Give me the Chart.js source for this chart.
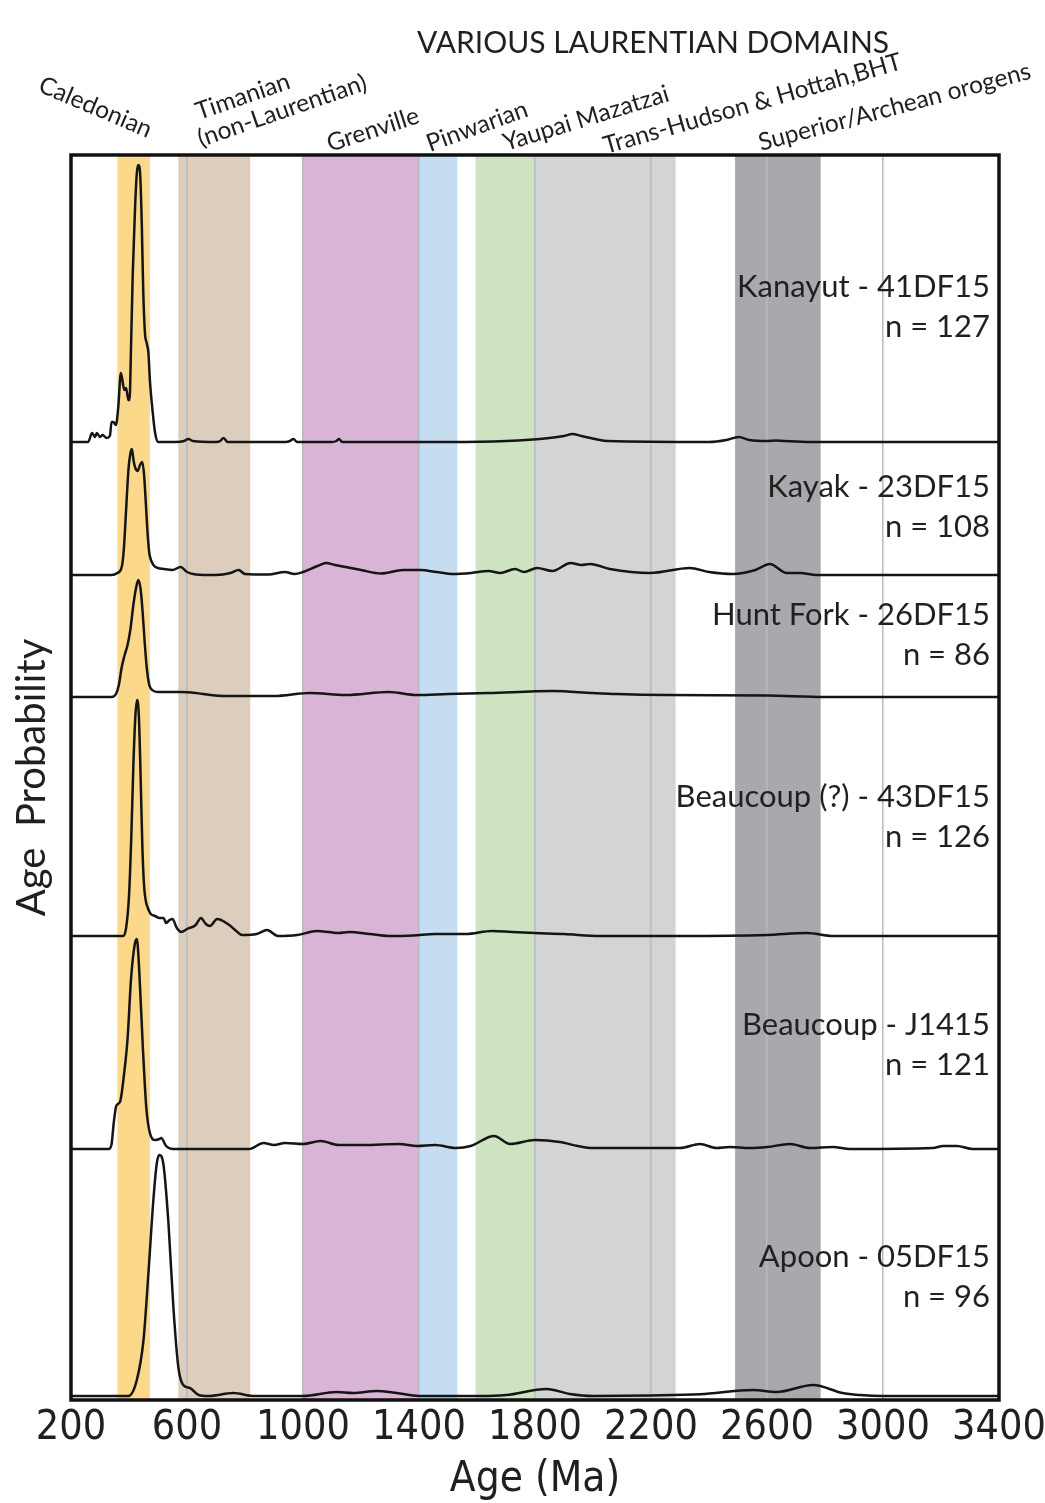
<!DOCTYPE html>
<html>
<head>
<meta charset="utf-8">
<script src="https://cdn.jsdelivr.net/npm/chart.js@4.4.1/dist/chart.umd.min.js"></script>
<style>
  html,body{margin:0;padding:0;background:#fff;}
  #wrap{width:1045px;height:1503px;}
</style>
</head>
<body>
<div id="wrap"><canvas id="chart" width="1045" height="1503"></canvas></div>
<script>
/* ---------------- DATA ---------------- */
const X_TICKS = [200, 600, 1000, 1400, 1800, 2200, 2600, 3000, 3400];

// domain bands (Ma)
const bandStart  = [360, 570, 1000, 1400, 1595, 1800, 2490];
const bandEnd    = [472, 818, 1400, 1532, 1800, 2285, 2785];
const bandColors = ["#fcd88b", "#ddcdbd", "#d8b4d6", "#c4ddf1", "#cfe3c3", "#d3d4d5", "#a7a9ac"];

const domainTitle  = "VARIOUS LAURENTIAN DOMAINS";
const domainLabels = ["Caledonian", "Timanian", "(non-Laurentian)", "Grenville", "Pinwarian",
                      "Yaupai Mazatzai", "Trans-Hudson & Hottah,BHT", "Superior/Archean orogens"];

// samples, top to bottom
const sampleNames = ["Kanayut - 41DF15", "Kayak - 23DF15", "Hunt Fork - 26DF15",
                     "Beaucoup (?) - 43DF15", "Beaucoup - J1415", "Apoon - 05DF15"];
const sampleN     = ["n = 127", "n = 108", "n = 86", "n = 126", "n = 121", "n = 96"];
const baselines   = [958, 825, 703, 464, 251, 4];   // vertical offset of each curve

const kanayutAge  = [200,259,273,283,289,300,309,323,334,340,346,355,363,372,384,390,398,402,407,413,421,427,432,438,444,449,455,461,467,472,482,490,501,
                     560,590,605,620,700,715,726,740,940,955,967,980,1100,1115,1124,1135,1500,1700,1850,1900,1929,1960,2050,2400,2460,2502,2540,2600,2630,2660,2750,3400];
const kanayutProb = [0,0,9,5,9,5,7,4,6,20,20,17,35,69,52,54,42,42,95,169,235,269,277,270,219,152,109,99,89,62,29,9,0,
                     0,1,3,1,0,1,4,0,0,1,3,0,0,1,3,0,0,1,4,6,8,6,1,0,2,5,2,1,1.5,1,0,0];

const kayakAge  = [200,340,360,375,382,390,398,405,410,416,422,430,438,446,452,458,464,470,477,487,500,520,550,578,600,630,700,750,778,800,880,938,970,1000,1050,1080,1110,1147,1200,1270,1345,1406,1460,1517,1580,1640,1680,1731,1762,1807,1860,1923,1960,1990,2058,2196,2334,2400,2483,2560,2610,2668,2714,2771,3400];
const kayakProb = [0,0,2,8,25,65,105,122,126,114,107,104,110,113,100,72,42,22,14,9,7,6,5,8,3,0.5,0,2,5,1,0.5,3,1,3,9,12,10,8,5,1.5,5,5,3,1,2,4,2,6,3,7,4,12,10,11,6,2,7,3,1,5,11,2,2,0,0];

const huntForkAge  = [200,340,355,365,375,385,395,405,415,425,432,440,447,454,461,470,480,500,540,580,630,680,728,900,1024,1148,1295,1393,1500,1640,1862,2000,2083,2254,2599,2800,3400];
const huntForkProb = [0,0,3,12,30,42,52,68,92,110,117,108,85,55,30,12,7,5,5,5,4,2,1,1,4,2,5,2,3,4,6,4,3,2,1.5,0,0];

const beaucoupQAge  = [200,380,390,400,408,415,422,428,434,440,446,452,458,465,475,490,505,519,528,540,550,565,581,600,630,648,665,679,704,741,770,790,840,876,914,980,1048,1090,1123,1160,1230,1295,1380,1455,1560,1652,1720,1800,1900,2024,2300,2600,2737,2829,3400];
const beaucoupQProb = [0,0,8,40,100,170,220,236,220,160,90,50,35,28,22,20,18,18,13,16,17,8,4,7,11,18,12,10,17,12,5,1,2,6,0,1,5,4,3,4,2,0,0.5,2,2,5,4,3,2,0,0,1,3,0,0];

const j1415Age  = [200,330,340,347,355,362,370,383,395,407,420,427,435,448,460,472,490,505,511,528,552,814,864,900,938,1000,1061,1123,1209,1331,1393,1455,1528,1578,1659,1714,1800,1886,1948,2000,2200,2300,2369,2426,2472,2541,2600,2679,2748,2827,2886,3172,3207,3255,3310,3400];
const j1415Prob = [0,0,5,25,42,45,48,75,110,170,205,210,180,100,40,16,9,10,11,3,0,0,6,4,6,5,8,4,4,5,3,4,1,3,13,5,9,7,3,1,1,1,5,1,2,1,2,5,1,2,0,1,3,3,0,0];

const apoonAge  = [200,398,427,450,467,484,496,505,519,536,553,570,587,610,640,674,760,830,1000,1116,1172,1254,1323,1400,1610,1700,1840,1920,2000,2200,2369,2552,2633,2759,2860,2921,3000,3400];
const apoonProb = [0,0,16,56,123,196,233,241,231,173,89,29,11,8,1,0,3,0,0,4,3,5,3,0,0,1,7,2,0,0.5,1.7,6,4,11,3,1,0,0];

const seriesAges  = [kanayutAge, kayakAge, huntForkAge, beaucoupQAge, j1415Age, apoonAge];
const seriesProbs = [kanayutProb, kayakProb, huntForkProb, beaucoupQProb, j1415Prob, apoonProb];
/* -------------------------------------- */

/* ---------------- STYLE ---------------- */
const INK = "#231f20";
const SANS = "Lato, 'Open Sans', sans-serif";
const NARROW = "'Liberation Sans Narrow', 'DejaVu Sans Condensed', Lato, sans-serif";
// label y positions (in curve units) for name / n lines
const labelY = [[1103, 1063], [903, 863], [775, 735], [593, 553], [365, 325], [133, 93]];
// domain label anchors: x, y (baseline start), angle in degrees
const domainPos = [[37, 91, 23], [199, 120, -19], [201, 147, -19], [330, 152, -18], [430, 152, -20],
                   [506, 151, -17], [606, 154, -16], [761, 151, -15]];
/* -------------------------------------- */

function toPoints(ages, probs, base){
    return ages.map((a, i) => ({x: a, y: base + probs[i]}));
}

/* colored domain bands behind everything */
const bandsPlugin = {
    id: 'bands',
    beforeDraw(chart){
        const {ctx, chartArea: a, scales: {x}} = chart;
        ctx.save();
        bandStart.forEach((s, i) => {
            const x0 = x.getPixelForValue(s), x1 = x.getPixelForValue(bandEnd[i]);
            ctx.fillStyle = bandColors[i];
            ctx.fillRect(x0, a.top, x1 - x0, a.bottom - a.top);
        });
        ctx.restore();
    }
};

/* frame, sample labels and domain labels */
const labelsPlugin = {
    id: 'labels',
    afterDraw(chart){
        const {ctx, chartArea: a, scales: {y}} = chart;
        ctx.save();
        ctx.strokeStyle = "#111";
        ctx.lineWidth = 3.5;
        ctx.strokeRect(a.left, a.top, a.right - a.left, a.bottom - a.top);

        ctx.fillStyle = INK;
        ctx.textAlign = 'right';
        ctx.textBaseline = 'alphabetic';
        ctx.font = "31px " + SANS;
        sampleNames.forEach((name, i) => {
            ctx.fillText(name, a.right - 9, y.getPixelForValue(labelY[i][0]));
            ctx.fillText(sampleN[i], a.right - 9, y.getPixelForValue(labelY[i][1]));
        });

        ctx.textAlign = 'center';
        ctx.font = "30px " + SANS;
        ctx.fillText(domainTitle, 653, 53);

        ctx.textAlign = 'left';
        ctx.font = "24.5px " + SANS;
        domainLabels.forEach((t, i) => {
            const [px, py, ang] = domainPos[i];
            ctx.save();
            ctx.translate(px, py);
            ctx.rotate(ang * Math.PI / 180);
            ctx.fillText(t, 0, 0);
            ctx.restore();
        });
        ctx.restore();
    }
};

const datasets = seriesAges.map((ages, i) => ({
    label: sampleNames[i],
    data: toPoints(ages, seriesProbs[i], baselines[i]),
    borderColor: "#151515",
    borderWidth: 2.5,
    pointRadius: 0,
    fill: false,
    cubicInterpolationMode: 'monotone'
}));

new Chart(document.getElementById('chart').getContext('2d'), {
    type: 'line',
    data: {datasets},
    options: {
        responsive: false,
        animation: false,
        layout: {padding: {top: 155, right: 46, bottom: 0, left: 0}},
        plugins: {legend: {display: false}, tooltip: {enabled: false}},
        scales: {
            x: {
                type: 'linear',
                min: X_TICKS[0],
                max: X_TICKS[X_TICKS.length - 1],
                afterBuildTicks: s => { s.ticks = X_TICKS.map(v => ({value: v})); },
                afterFit: s => { s.height = 103; s.paddingLeft = 0; s.paddingRight = 0; },
                border: {display: false},
                grid: {color: "#b8babd", lineWidth: 1.5, drawTicks: false},
                ticks: {
                    autoSkip: false, maxRotation: 0, padding: 4, color: INK,
                    font: {family: NARROW, size: 41},
                    callback: v => String(v)
                },
                title: {
                    display: true, text: 'Age (Ma)', color: INK,
                    font: {family: NARROW, size: 42, lineHeight: 1},
                    padding: {top: 0, bottom: 2}
                }
            },
            y: {
                type: 'linear',
                min: 0,
                max: 1245,
                afterFit: s => { s.width = 71; },
                border: {display: false},
                grid: {display: false},
                ticks: {display: false},
                title: {
                    display: true, text: 'Age  Probability', color: INK,
                    font: {family: SANS, size: 40},
                    padding: {top: 8, bottom: 0}
                }
            }
        }
    },
    plugins: [bandsPlugin, labelsPlugin]
});
</script>
</body>
</html>
